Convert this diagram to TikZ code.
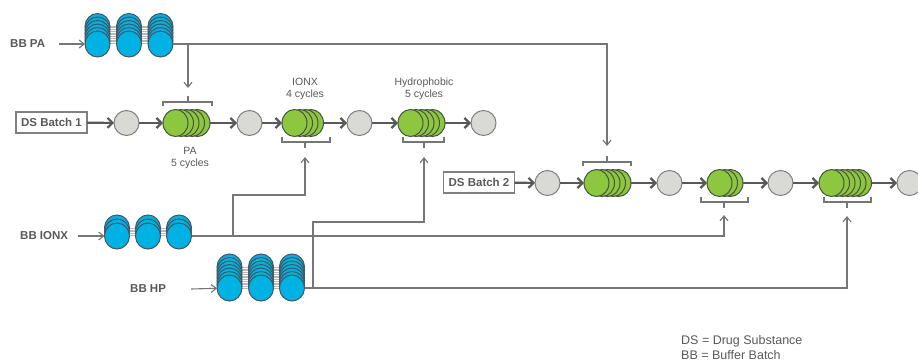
\documentclass[tikz,border=0pt]{standalone}
\usepackage{fontspec}
\setmainfont{Liberation Sans}
\definecolor{bufBlue}{RGB}{0,178,227}
\definecolor{bufEdge}{RGB}{70,84,96}
\definecolor{resinGreen}{RGB}{141,198,63}
\definecolor{resinEdge}{RGB}{72,82,66}
\definecolor{holdGray}{RGB}{217,217,214}
\definecolor{holdEdge}{RGB}{128,128,128}
\definecolor{flowGray}{RGB}{88,88,88}
\definecolor{lineGray}{RGB}{118,118,118}
\definecolor{txtGray}{RGB}{89,89,89}
\usetikzlibrary{arrows.meta,positioning,shapes.geometric}

\begin{document}
\begin{tikzpicture}[x=1pt, y=-1pt,
  bbcyc/.style={ellipse, draw=bufEdge, line width=1pt, fill=bufBlue,
                minimum width=25pt, minimum height=26pt, inner sep=0pt, outer sep=0pt},
  dscyc/.style={ellipse, draw=resinEdge, line width=1pt, fill=resinGreen,
                minimum width=25pt, minimum height=27pt, inner sep=0pt, outer sep=0pt},
  hold/.style={circle, draw=holdEdge, line width=1pt, fill=holdGray,
               minimum size=25pt, inner sep=0pt, outer sep=0pt},
  batch/.style={draw=holdEdge, line width=1.2pt, minimum width=71pt, minimum height=21pt,
                inner sep=0pt, outer sep=0pt, text=txtGray,
                font=\bfseries\fontsize{11.5}{13}\selectfont},
  bblabel/.style={anchor=west, inner sep=0pt, text=txtGray,
                  font=\bfseries\fontsize{11.5}{13}\selectfont},
  steplabel/.style={align=center, inner sep=0pt, text=txtGray,
                    font=\fontsize{10.5}{12}\selectfont},
  stripe/.style={draw=gray!55, line width=0.5pt},
  flow/.style={draw=flowGray, line width=2.2pt, -{Straight Barb[length=5pt,width=10pt]}},
  feed/.style={draw=lineGray, line width=1.1pt, -{Straight Barb[length=5pt,width=8pt]}},
  bracket/.style={draw=lineGray, line width=1.1pt}
]
  \useasboundingbox (0,0) rectangle (918,361);
  \clip (0,0) rectangle (918,361);

  % buffer batches
  \foreach \yy in {26,27.75,...,44} \draw[stripe] (108,\yy) -- (150,\yy);
  \foreach \lev in {5,...,0}
    \foreach \col/\cx in {1/97.5,2/129,3/160.5}
      \node[bbcyc] (bbpa\col-\lev) at (\cx,{44-3.5*\lev}) {};

  \foreach \yy in {228,229.75,...,236} \draw[stripe] (128,\yy) -- (168,\yy);
  \foreach \lev in {2,...,0}
    \foreach \col/\cx in {1/117,2/148,3/179}
      \node[bbcyc] (bbionx\col-\lev) at (\cx,{236-4*\lev}) {};

  \foreach \yy in {267,268.75,...,288} \draw[stripe] (240,\yy) -- (281,\yy);
  \foreach \lev in {6,...,0}
    \foreach \col/\cx in {1/229.5,2/261,3/292}
      \node[bbcyc] (bbhp\col-\lev) at (\cx,{288-3.5*\lev}) {};

  \node[bblabel] (lbpa)   at (10,44)  {BB PA};
  \node[bblabel] (lbionx) at (20,236) {BB IONX};
  \node[bblabel] (lbhp)   at (130,289) {BB HP};

  \draw[feed] ([xshift=14pt]lbpa.east)   -- (bbpa1-0);
  \draw[feed] ([xshift=10pt]lbionx.east) -- (bbionx1-0);
  \draw[feed] ([xshift=25pt]lbhp.east)   -- (bbhp1-0);

  % DS batch 1
  \node[batch] (ds1) at (51.5,122.5) {DS Batch 1};
  \node[hold]  (h11) at (126.5,123) {};
  \foreach \k in {4,...,1} \node[dscyc] (pa1-\k) at ({175.5+5.5*\k},123) {};
  \node[dscyc] (pa1) at (175.5,123) {};
  \node[hold]  (h12) at (249.5,123) {};
  \foreach \k in {3,...,1} \node[dscyc] (ionx1-\k) at ({294.5+5.5*\k},123) {};
  \node[dscyc] (ionx1) at (294.5,123) {};
  \node[hold]  (h13) at (359.5,123) {};
  \foreach \k in {4,...,1} \node[dscyc] (hp1-\k) at ({410.5+5.5*\k},123) {};
  \node[dscyc] (hp1) at (410.5,123) {};
  \node[hold]  (h14) at (483.5,123) {};

  \draw[flow] (ds1) -- (h11);
  \draw[flow] (h11) -- (pa1);
  \draw[flow] (pa1-4) -- (h12);
  \draw[flow] (h12) -- (ionx1);
  \draw[flow] (ionx1-3) -- (h13);
  \draw[flow] (h13) -- (hp1);
  \draw[flow] (hp1-4) -- (h14);

  \node[steplabel] (lpa)   at (190,157.5) {PA\\5 cycles};
  \node[steplabel] (lionx) at (305,89) {IONX\\4 cycles};
  \node[steplabel] (lhp)   at (424,89) {Hydrophobic\\5 cycles};

  \draw[bracket] (163,106) -- (163,102) -- (212,102) -- (212,106) (188,102) -- (188,96);
  \draw[bracket] (282,137) -- (282,142) -- (330,142) -- (330,137) (305,142) -- (305,148);
  \draw[bracket] (403,137) -- (403,142) -- (444,142) -- (444,137) (424,142) -- (424,148);

  % DS batch 2
  \node[batch] (ds2) at (479,182.5) {DS Batch 2};
  \node[hold]  (h21) at (547.5,183) {};
  \foreach \k in {4,...,1} \node[dscyc] (pa2-\k) at ({596.5+5.5*\k},183) {};
  \node[dscyc] (pa2) at (596.5,183) {};
  \node[hold]  (h22) at (669.5,183) {};
  \foreach \k in {2,...,1} \node[dscyc] (ionx2-\k) at ({719.5+5.5*\k},183) {};
  \node[dscyc] (ionx2) at (719.5,183) {};
  \node[hold]  (h23) at (780.5,183) {};
  \foreach \k in {5,...,1} \node[dscyc] (hp2-\k) at ({831.5+5.5*\k},183) {};
  \node[dscyc] (hp2) at (831.5,183) {};
  \node[hold]  (h24) at (909.5,183) {};

  \draw[flow] (ds2) -- (h21);
  \draw[flow] (h21) -- (pa2);
  \draw[flow] (pa2-4) -- (h22);
  \draw[flow] (h22) -- (ionx2);
  \draw[flow] (ionx2-2) -- (h23);
  \draw[flow] (h23) -- (hp2);
  \draw[flow] (hp2-5) -- (h24);

  \draw[bracket] (583,166) -- (583,162) -- (631,162) -- (631,166) (607,162) -- (607,156);
  \draw[bracket] (701,197) -- (701,202) -- (748,202) -- (748,197) (724,202) -- (724,208);
  \draw[bracket] (824,197) -- (824,202) -- (871,202) -- (871,197) (847,202) -- (847,208);

  % buffer feeds
  \coordinate (pa1-in)   at (188,88);
  \coordinate (pa2-in)   at (607,146);
  \coordinate (ionx1-in) at (305,157);
  \coordinate (ionx2-in) at (724,215);
  \coordinate (hp1-in)   at (424,157);
  \coordinate (hp2-in)   at (847,216);
  \coordinate (ionx-tap) at (233,236);
  \coordinate (hp-tap)   at (313,288);

  \draw[feed] (bbpa3-0.east) -| (pa2-in);
  \draw[feed] (bbpa3-0.east -| pa1-in) -- (pa1-in);
  \draw[feed] (bbionx3-0.east) -| (ionx2-in);
  \draw[feed] (ionx-tap) -- (233,195) -| (ionx1-in);
  \draw[feed] (bbhp3-0.east) -| (hp2-in);
  \draw[feed] (hp-tap) -- (313,222) -| (hp1-in);

  \node[anchor=west, align=left, inner sep=0pt, text=txtGray,
        font=\fontsize{12.5}{15}\selectfont] (legend) at (681,347.5)
        {DS = Drug Substance\\BB = Buffer Batch};
\end{tikzpicture}
\end{document}
